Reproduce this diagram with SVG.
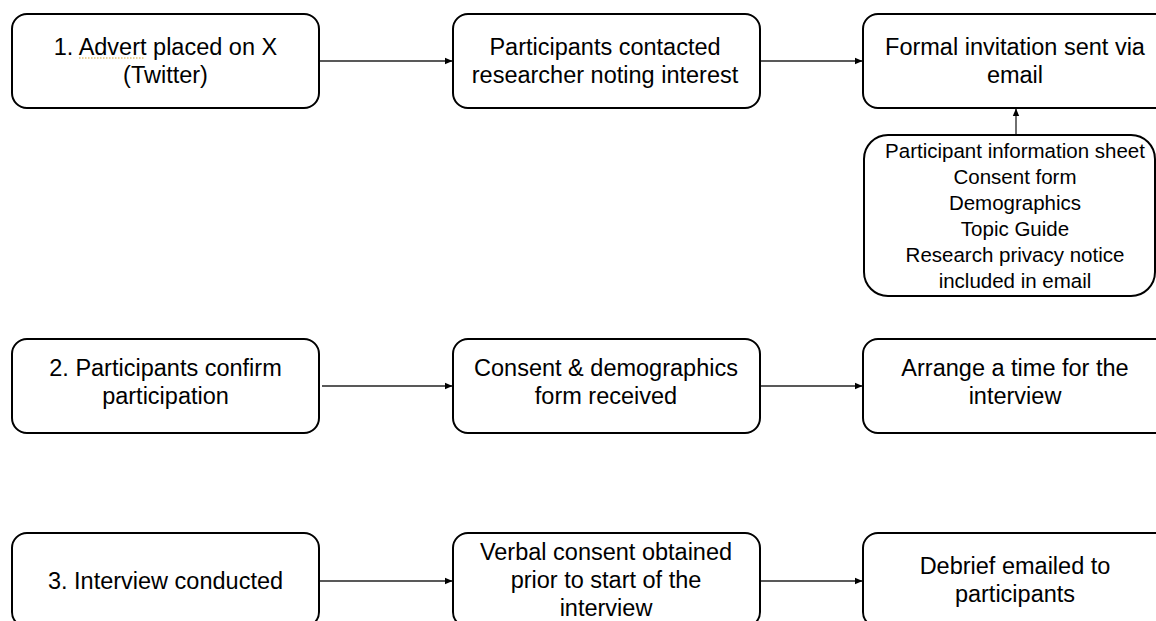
<svg xmlns="http://www.w3.org/2000/svg" width="1156" height="621" viewBox="0 0 1156 621">
<defs>
<marker id="ah" markerWidth="8" markerHeight="8" refX="7" refY="4" orient="auto" markerUnits="userSpaceOnUse">
<path d="M0,0.8 L7.5,4 L0,7.2 Z" fill="#000"/>
</marker>
<style>
.box{fill:#fff;stroke:#000;stroke-width:2}
.t{font-family:"Liberation Sans",Arial,sans-serif;font-size:23.5px;fill:#000;text-anchor:middle}
.s{font-family:"Liberation Sans",Arial,sans-serif;font-size:20.5px;fill:#000;text-anchor:middle}
.c{fill:none;stroke:#222;stroke-width:1.3}
</style>
</defs>
<rect width="1156" height="621" fill="#fff"/>
<g id="connectors">
<line class="c" x1="320" y1="61" x2="452" y2="61" marker-end="url(#ah)"/>
<line class="c" x1="761" y1="61" x2="862" y2="61" marker-end="url(#ah)"/>
<line class="c" x1="1016" y1="135" x2="1016" y2="109" marker-end="url(#ah)"/>
<line class="c" x1="322" y1="386" x2="452" y2="386" marker-end="url(#ah)"/>
<line class="c" x1="761" y1="386" x2="862" y2="386" marker-end="url(#ah)"/>
<line class="c" x1="320" y1="581" x2="452" y2="581" marker-end="url(#ah)"/>
<line class="c" x1="761" y1="581" x2="862" y2="581" marker-end="url(#ah)"/>
</g>
<g id="n1">
<rect class="box" x="12" y="14" width="307" height="94" rx="15"/>
<text class="t" x="165.5" y="55">1. Advert placed on X</text>
<text class="t" x="165.5" y="83">(Twitter)</text>
<line x1="79" y1="58" x2="144" y2="58" stroke="#d4a22a" stroke-width="1.2" stroke-dasharray="1.5,1.5"/>
</g>
<g id="n2">
<rect class="box" x="453" y="14" width="307" height="94" rx="15"/>
<text class="t" x="605" y="55">Participants contacted</text>
<text class="t" x="605" y="83">researcher noting interest</text>
</g>
<g id="n3">
<rect class="box" x="863" y="14" width="307" height="94" rx="15"/>
<text class="t" x="1015" y="55">Formal invitation sent via</text>
<text class="t" x="1015" y="83">email</text>
</g>
<g id="n4">
<rect class="box" x="864" y="135" width="291" height="161" rx="24"/>
<text class="s" x="1015" y="158">Participant information sheet</text>
<text class="s" x="1015" y="184">Consent form</text>
<text class="s" x="1015" y="210">Demographics</text>
<text class="s" x="1015" y="236">Topic Guide</text>
<text class="s" x="1015" y="262">Research privacy notice</text>
<text class="s" x="1015" y="288">included in email</text>
</g>
<g id="n5">
<rect class="box" x="12" y="339" width="307" height="94" rx="15"/>
<text class="t" x="165.5" y="376">2. Participants confirm</text>
<text class="t" x="165.5" y="404">participation</text>
</g>
<g id="n6">
<rect class="box" x="453" y="339" width="307" height="94" rx="15"/>
<text class="t" x="606" y="376">Consent &amp; demographics</text>
<text class="t" x="606" y="404">form received</text>
</g>
<g id="n7">
<rect class="box" x="863" y="339" width="307" height="94" rx="15"/>
<text class="t" x="1015" y="376">Arrange a time for the</text>
<text class="t" x="1015" y="404">interview</text>
</g>
<g id="n8">
<rect class="box" x="12" y="533" width="307" height="94" rx="15"/>
<text class="t" x="165.5" y="589">3. Interview conducted</text>
</g>
<g id="n9">
<rect class="box" x="453" y="533" width="307" height="94" rx="15"/>
<text class="t" x="606" y="560">Verbal consent obtained</text>
<text class="t" x="606" y="588">prior to start of the</text>
<text class="t" x="606" y="616">interview</text>
</g>
<g id="n10">
<rect class="box" x="863" y="533" width="307" height="94" rx="15"/>
<text class="t" x="1015" y="574">Debrief emailed to</text>
<text class="t" x="1015" y="602">participants</text>
</g>
</svg>
